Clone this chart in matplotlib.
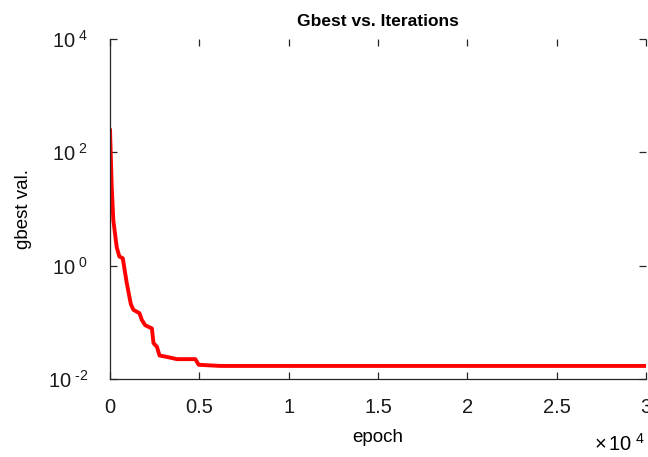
import matplotlib
matplotlib.use("Agg")
import matplotlib.pyplot as plt
from matplotlib.ticker import FixedLocator, FixedFormatter

plt.rcParams['font.family'] = ['Liberation Sans', 'DejaVu Sans']
plt.rcParams['mathtext.fontset'] = 'custom'
plt.rcParams['mathtext.rm'] = 'Liberation Sans'
plt.rcParams['mathtext.it'] = 'Liberation Sans:italic'
plt.rcParams['mathtext.bf'] = 'Liberation Sans:bold'

# gbest value per epoch
epochs = [0, 95, 185, 376, 522, 713, 938, 1163, 1309, 1646, 1781, 1966,
          2343, 2433, 2624, 2770, 3185, 3747, 4775, 4961, 6180, 30000]
gbest = [245, 24.5, 6.3, 2.1, 1.45, 1.35, 0.49, 0.21, 0.166, 0.145, 0.11,
         0.089, 0.078, 0.043, 0.037, 0.026, 0.0245, 0.0224, 0.0224, 0.0178,
         0.0170, 0.0170]

xticks = [0, 5000, 10000, 15000, 20000, 25000, 30000]
xtick_labels = ['0', '0.5', '1', '1.5', '2', '2.5', '3']
yticks = [1e-2, 1e0, 1e2, 1e4]
ytick_labels = [r'$10^{\ \text{-2}}$', r'$10^{\ 0}$', r'$10^{\ 2}$', r'$10^{\ 4}$']

fig = plt.figure(figsize=(6.48, 4.57), dpi=100)
ax = fig.add_axes([0.1698, 0.1707, 0.8272, 0.744])

ax.plot(epochs, gbest, color='#ff0000', linewidth=2.8, solid_joinstyle='round')

ax.set_yscale('log')
ax.set_xlim(0, 30000)
ax.set_ylim(1e-2, 1e4)

ax.xaxis.set_major_locator(FixedLocator(xticks))
ax.xaxis.set_major_formatter(FixedFormatter(xtick_labels))
ax.yaxis.set_major_locator(FixedLocator(yticks))
ax.yaxis.set_major_formatter(FixedFormatter(ytick_labels))
ax.yaxis.set_minor_locator(FixedLocator([]))

axis_col = '#262626'
for s in ['top', 'right']:
    ax.spines[s].set_visible(False)
for s in ['left', 'bottom']:
    ax.spines[s].set_color(axis_col)
    ax.spines[s].set_linewidth(0.9)

ax.tick_params(which='both', direction='in', top=True, right=True,
               length=5, width=0.9, color=axis_col, labelsize=14.5,
               labelcolor='#1a1a1a')
ax.tick_params(axis='x', pad=14)
ax.tick_params(axis='y', pad=16)

ax.set_title('Gbest vs. Iterations', fontsize=12.5, fontweight='bold', pad=9)
ax.set_xlabel('epoch', fontsize=13.5, labelpad=8)
ax.set_ylabel('gbest val.', fontsize=13.5, labelpad=11)

fig.text(0.995, 0.028, r'$\times\,10^{\ 4}$', ha='right', va='center', fontsize=14.5)

fig.savefig('out.png', dpi=100)
